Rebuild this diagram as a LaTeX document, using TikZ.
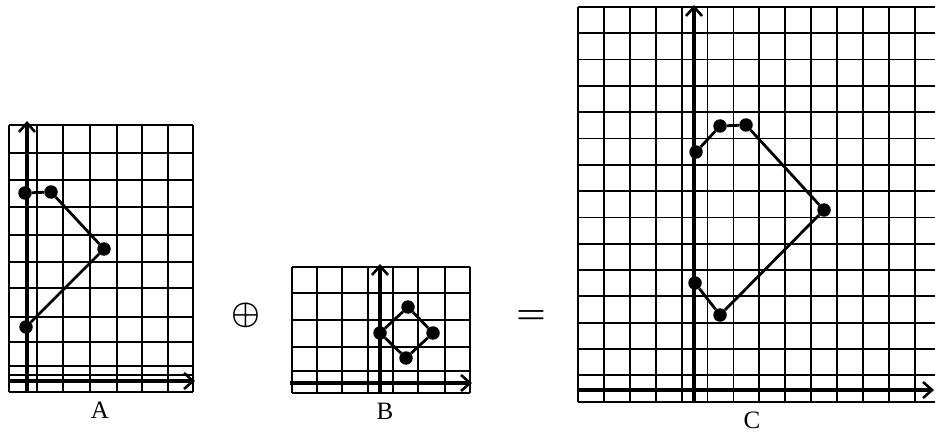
\documentclass[tikz,border=0pt]{standalone}
\usepackage{fontspec}
\setmainfont{Liberation Serif}
\usetikzlibrary{arrows.meta}
\begin{document}
\begin{tikzpicture}[x=1pt,y=-1pt,
  gridline/.style={line width=1.8pt},
  axisline/.style={line width=3.2pt,-{Straight Barb[length=9pt,width=16pt,line width=2.6pt]}},
  dot/.style={circle,fill,inner sep=0pt,minimum size=13.5pt},
  edge/.style={line width=2.8pt},
  lbl/.style={inner sep=0pt,font=\fontsize{25}{25}\selectfont},
  opsym/.style={inner sep=0pt,font=\fontsize{24.88}{25}\selectfont\boldmath}]
\useasboundingbox (0,0) rectangle (935,433);

% ---------- panel A ----------
\foreach \x in {9,37,63,90,117,142,168,193}
  \draw[gridline] (\x,125) -- (\x,392);
\foreach \y in {125,153,180,207,235,262,288,317,342,366,375,392}
  \draw[gridline] (9,\y) -- (193,\y);
\coordinate (Ayb) at (27,392);
\coordinate (Ayt) at (27,121);
\coordinate (Axl) at (8,381);
\coordinate (Axr) at (195,381);
\draw[axisline] (Ayb) -- (Ayt);
\draw[axisline] (Axl) -- (Axr);
\node[dot] (a1) at (26,327) {};
\node[dot] (a2) at (104,249) {};
\node[dot] (a3) at (51,192) {};
\node[dot] (a4) at (25,193) {};
\draw[edge] (a1) -- (a2) -- (a3) -- (a4);
\node[lbl] (labA) at (100,410) {A};

% ---------- operator ----------
\node[opsym] (oplus) at (246,315) {\scalebox{1.3}{$\oplus$}};

% ---------- panel B ----------
\foreach \x in {292,317,342,368,393,418,445,470}
  \draw[gridline] (\x,267) -- (\x,393);
\foreach \y in {267,293,320,347,371,393}
  \draw[gridline] (292,\y) -- (470,\y);
\coordinate (Byb) at (380,394);
\coordinate (Byt) at (380,264);
\coordinate (Bxl) at (290,383);
\coordinate (Bxr) at (472,383);
\draw[axisline] (Byb) -- (Byt);
\draw[axisline] (Bxl) -- (Bxr);
\node[dot] (b1) at (380,333) {};
\node[dot] (b2) at (408,307) {};
\node[dot] (b3) at (433,333) {};
\node[dot] (b4) at (406,358) {};
\draw[edge] (b1) -- (b2) -- (b3) -- (b4) -- (b1);
\node[lbl] (labB) at (385,411) {B};

% ---------- equals ----------
\node[opsym] (eq) at (531,317) {\scalebox{1.35}{$=$}};

% ---------- panel C ----------
\foreach \i in {0,...,13}
  \draw[gridline] ({578+25.9*\i},7) -- ({578+25.9*\i},402);
\foreach \i in {0,...,14}
  \draw[gridline] (578,{7+26.3*\i}) -- (935,{7+26.3*\i});
\draw[gridline] (578,402) -- (935,402);
\coordinate (Cyb) at (694,403);
\coordinate (Cyt) at (694,5);
\coordinate (Cxl) at (578,390);
\coordinate (Cxr) at (934,390);
\draw[axisline] (Cyb) -- (Cyt);
\draw[axisline] (Cxl) -- (Cxr);
\node[dot] (c1) at (696,152) {};
\node[dot] (c2) at (720,126) {};
\node[dot] (c3) at (746,125) {};
\node[dot] (c4) at (824,210) {};
\node[dot] (c5) at (720,315) {};
\node[dot] (c6) at (695,283) {};
\draw[edge] (c1) -- (c2) -- (c3) -- (c4) -- (c5) -- (c6);
\node[lbl] (labC) at (752,420) {C};
\end{tikzpicture}
\end{document}
